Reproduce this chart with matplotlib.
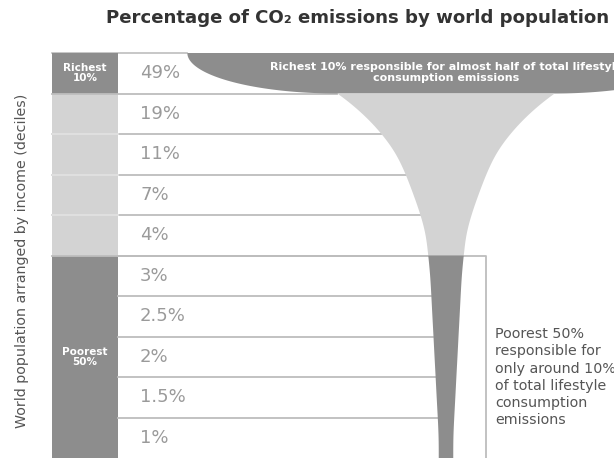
import numpy as np
import matplotlib.pyplot as plt
from matplotlib.patches import Rectangle, Polygon

# Share of lifestyle consumption emissions per income decile (richest first)
shares = [49, 19, 11, 7, 4, 3, 2.5, 2, 1.5, 1]
pct_labels = [f"{s:g}%" for s in shares]
groups = ["rich", "mid", "mid", "mid", "mid", "poor", "poor", "poor", "poor", "poor"]

title = "Percentage of CO\u2082 emissions by world population"
ylabel = "World population arranged by income (deciles)"
rich_label = "Richest\n10%"
poor_label = "Poorest\n50%"
rich_note = "Richest 10% responsible for almost half of total lifestyle\nconsumption emissions"
poor_note = ("Poorest 50%\nresponsible for\nonly around 10%\nof total lifestyle\n"
             "consumption\nemissions")

DARK = "#8d8d8d"
LIGHT = "#d3d3d3"
LINE = "#bdbdbd"
colors = {"rich": DARK, "mid": LIGHT, "poor": DARK}

# layout in pixel units
W, H = 614, 458
top = 53
row_h = 40.5
col_l, col_r = 52, 118
cx = 446              # funnel centre
k, c = 8.5, 6.0       # funnel width = k * share + c
lip_w = 150           # how far the top lip flares out

fig = plt.figure(figsize=(W / 100, H / 100), dpi=100)
ax = fig.add_axes([0, 0, 1, 1])
ax.set_xlim(0, W)
ax.set_ylim(H, 0)
ax.axis("off")

n = len(shares)
y_edges = top + row_h * np.arange(n + 1)
y_mid = (y_edges[:-1] + y_edges[1:]) / 2

# funnel body: log width through the row midpoints of rows 2..10, then smoothed
widths = k * np.array(shares[1:]) + c
ym = y_mid[1:]
lw = np.log(widths)
slope = (lw[1] - lw[0]) / (ym[1] - ym[0])
y_pad = ym[0] - 60
yy = np.concatenate([[y_pad], ym, [H + 60]])
ll = np.concatenate([[lw[0] + slope * (y_pad - ym[0])], lw, [lw[-1]]])
ys_dense = np.arange(y_pad, H + 60, 1.0)
lw_dense = np.interp(ys_dense, yy, ll)
kern = np.exp(-0.5 * (np.arange(-30, 31) / 9.0) ** 2)
kern /= kern.sum()
lw_smooth = np.convolve(np.pad(lw_dense, 30, mode="edge"), kern, mode="valid")


def funnel_half(y):
    return np.exp(np.interp(y, ys_dense, lw_smooth)) / 2


w_top = 2 * funnel_half(y_edges[1])

# top lip (row 1): dark band with rounded flare
x_in_l = cx - w_top / 2
x_in_r = cx + w_top / 2
t = np.linspace(0, np.pi / 2, 60)
left_curve = np.column_stack([x_in_l - lip_w * np.cos(t), top + row_h * np.sin(t)])
right_curve = np.column_stack([x_in_r + lip_w * np.cos(t[::-1]), top + row_h * np.sin(t[::-1])])
lip = np.vstack([left_curve, right_curve])
ax.add_patch(Polygon(lip, closed=True, facecolor=DARK, edgecolor="none", zorder=2))

# table rows
ax.plot([col_l, x_in_l - lip_w], [top, top], color=LINE, lw=1.2, zorder=1)
for i in range(n):
    y0 = y_edges[i]
    ax.add_patch(Rectangle((col_l, y0), col_r - col_l, row_h,
                           facecolor=colors[groups[i]], edgecolor="none", zorder=1))
    if i > 0:
        xe = cx - funnel_half(y0)
        inside_poor = groups[i] == "poor" and groups[i - 1] == "poor"
        ax.plot([col_r if inside_poor else col_l, xe], [y0, y0],
                color=LINE, lw=1.3, zorder=1)
        if groups[i] == "mid" and groups[i - 1] == "mid":
            ax.plot([col_l, col_r], [y0, y0], color="#e6e6e6", lw=1.2, zorder=1.5)
    ax.text(140, y_mid[i], pct_labels[i], fontsize=13, color="#9a9a9a",
            va="center", ha="left", zorder=3)

# funnel colours follow the row groups
for g0, g1, col in [(1, 5, LIGHT), (5, n, DARK)]:
    ys = np.linspace(y_edges[g0], y_edges[g1], 200)
    hw = funnel_half(ys)
    ax.fill_betweenx(ys, cx - hw, cx + hw, facecolor=col, edgecolor="none", zorder=2)

# outline around the poorest half
poor_top = y_edges[5]
ax.plot([col_r, 486, 486], [poor_top, poor_top, H], color=LINE, lw=1.3, zorder=1)

# group labels in the left column
ax.text((col_l + col_r) / 2, y_mid[0], rich_label, color="white", fontsize=7.5,
        fontweight="bold", ha="center", va="center", linespacing=1.0, zorder=3)
ax.text((col_l + col_r) / 2, (y_edges[5] + y_edges[-1]) / 2, poor_label, color="white",
        fontsize=7.5, fontweight="bold", ha="center", va="center", linespacing=1.0, zorder=3)

ax.text(cx, y_mid[0] - 1, rich_note, color="white", fontsize=8, fontweight="bold",
        ha="center", va="center", linespacing=1.15, zorder=3)
ax.text(495, 327, poor_note, color="#555555", fontsize=10.3, ha="left", va="top",
        linespacing=1.3, zorder=3)

ax.text(358, 18, title, color="#333333", fontsize=13.1, fontweight="bold",
        ha="center", va="center")
ax.text(22, 261, ylabel, color="#555555", fontsize=10.3, rotation=90,
        ha="center", va="center")

fig.savefig("out.png", dpi=100)
